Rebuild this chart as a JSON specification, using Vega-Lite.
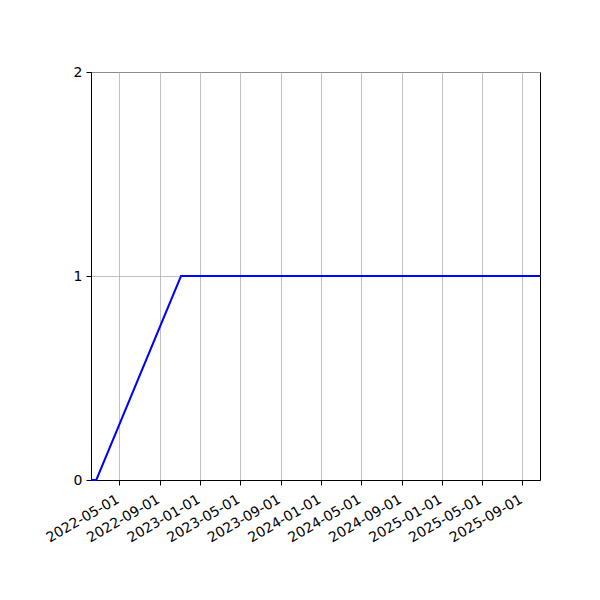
{
  "$schema": "https://vega.github.io/schema/vega-lite/v6.json",
  "autosize": {"type": "none"},
  "padding": {"left": 91, "top": 72, "right": 60, "bottom": 120},
  "width": 449,
  "height": 408,
  "background": "white",
  "data": {
    "values": [
      {"date": "2022-02-05", "value": 0},
      {"date": "2022-02-21", "value": 0},
      {"date": "2022-11-04", "value": 1},
      {"date": "2025-10-24", "value": 1}
    ]
  },
  "mark": {"type": "line", "color": "#0000ff", "strokeWidth": 2, "clip": false, "zindex": 2},
  "encoding": {
    "x": {
      "field": "date",
      "type": "temporal",
      "scale": {"type": "utc", "domain": [{"year": 2022, "month": 2, "date": 5, "utc": true}, {"year": 2025, "month": 10, "date": 24, "utc": true}], "nice": false},
      "axis": {
        "title": null,
        "labelExpr": "utcFormat(datum.value, '%Y-%m-%d')",
        "values": [
          {"year": 2022, "month": 5, "date": 1, "utc": true},
          {"year": 2022, "month": 9, "date": 1, "utc": true},
          {"year": 2023, "month": 1, "date": 1, "utc": true},
          {"year": 2023, "month": 5, "date": 1, "utc": true},
          {"year": 2023, "month": 9, "date": 1, "utc": true},
          {"year": 2024, "month": 1, "date": 1, "utc": true},
          {"year": 2024, "month": 5, "date": 1, "utc": true},
          {"year": 2024, "month": 9, "date": 1, "utc": true},
          {"year": 2025, "month": 1, "date": 1, "utc": true},
          {"year": 2025, "month": 5, "date": 1, "utc": true},
          {"year": 2025, "month": 9, "date": 1, "utc": true}
        ],
        "labelAngle": -30,
        "labelAlign": "right",
        "labelBaseline": "top",
        "labelPadding": 7,
        "labelOffset": -5,
        "labelOverlap": false,
        "labelFlush": false
      }
    },
    "y": {
      "field": "value",
      "type": "quantitative",
      "scale": {"domain": [0, 2], "nice": false},
      "axis": {"title": null, "values": [0, 1, 2], "labelExpr": "format(datum.value, 'd')", "labelPadding": 4, "labelOverlap": false, "labelFlush": false}
    }
  },
  "config": {
    "view": {"stroke": "black", "strokeWidth": 1},
    "axis": {
      "grid": true,
      "gridColor": "#b0b0b0",
      "gridWidth": 0.8,
      "domainColor": "black",
      "domainWidth": 1,
      "tickColor": "black",
      "tickSize": 5,
      "tickWidth": 1,
      "labelColor": "black",
      "labelFont": "DejaVu Sans",
      "labelFontSize": 14
    }
  }
}
